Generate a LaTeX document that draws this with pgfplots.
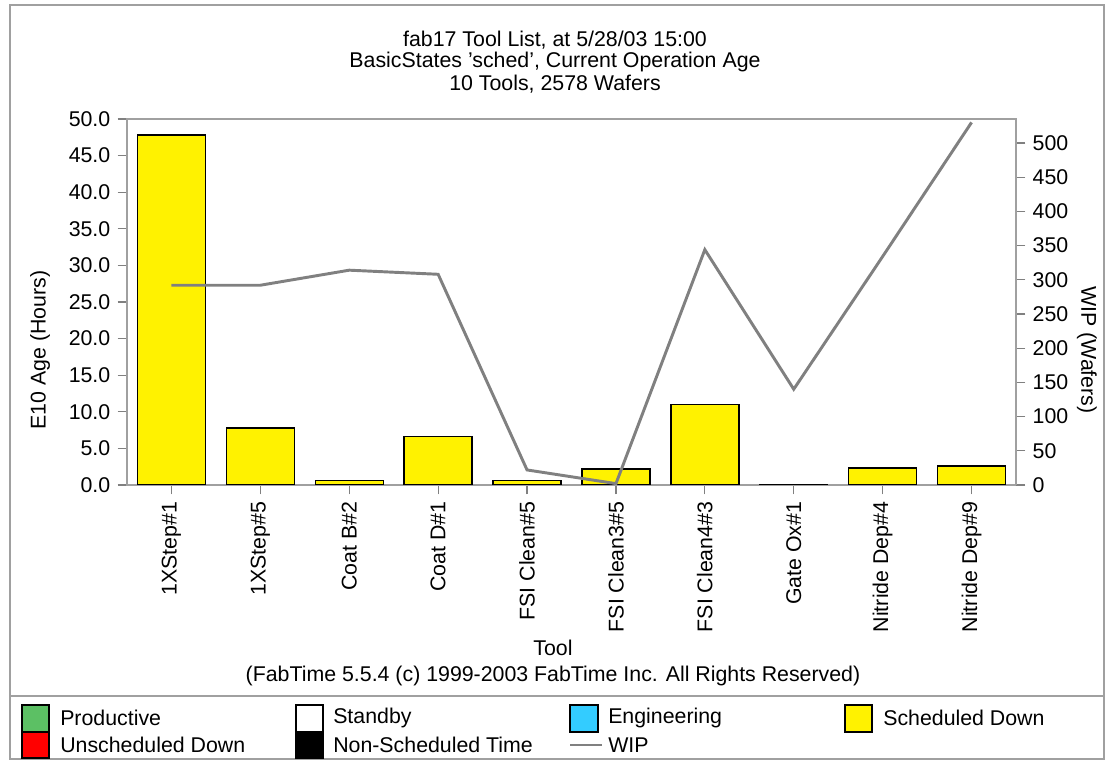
\documentclass[border=0pt]{standalone}
\usepackage{fontspec}
\setmainfont{Liberation Sans}
\usepackage{pgfplots}
\pgfplotsset{compat=1.18}
\definecolor{prodgreen}{RGB}{92,192,100}
\definecolor{engblue}{RGB}{51,204,255}
\definecolor{wipgray}{RGB}{128,128,128}
\definecolor{framegray}{RGB}{160,160,160}
\newcommand\chartfont{\fontsize{16}{18}\selectfont}
\begin{document}
\chartfont
\begin{tikzpicture}
% pixel scope: (px,py) -> picture
\begin{scope}[x=0.75pt,y=-0.75pt,xshift=-95.25pt,yshift=363.75pt]
\useasboundingbox (0,0) rectangle (1111,762);
\draw[framegray, line width=1.2pt] (10,5) rectangle (1104,759);
\draw[framegray, line width=2pt] (10,696) -- (1104,696);
\node at (555,40) {fab17 Tool List, at 5/28/03 15:00};
\node at (555,62) {BasicStates \char39 sched\char39, Current Operation Age};
\node at (555,84) {10 Tools, 2578 Wafers};
\node[rotate=90] at (40,350) {E10 Age (Hours)};
\node[rotate=-90] at (1087,350) {WIP (Wafers)};
\node at (553,648) {Tool};
\node at (553,676) {(FabTime 5.5.4 (c) 1999-2003 FabTime Inc. All Rights Reserved)};
% legend
\draw[black, line width=0.9pt, fill=prodgreen] (22,705) rectangle (49,732);
\draw[black, line width=0.9pt, fill=red] (22,732) rectangle (49,758);
\draw[black, line width=0.9pt, fill=white] (296,705) rectangle (323,732);
\draw[black, line width=0.9pt, fill=black] (296,732) rectangle (323,758);
\draw[black, line width=0.9pt, fill=engblue] (570,705) rectangle (598,732);
\draw[black, line width=0.9pt, fill=yellow] (845,705) rectangle (872,732);
\draw[wipgray, line width=2.2pt] (570,745) -- (602,745);
\node[anchor=west, inner sep=0pt] at (60,718) {Productive};
\node[anchor=west, inner sep=0pt] at (60,745) {Unscheduled Down};
\node[anchor=west, inner sep=0pt] at (333,718) {Standby};
\node[anchor=west, inner sep=0pt] at (333,745) {Non-Scheduled Time};
\node[anchor=west, inner sep=0pt] at (608,718) {Engineering};
\node[anchor=west, inner sep=0pt] at (608,745) {WIP};
\node[anchor=west, inner sep=0pt] at (883,718) {Scheduled Down};
\end{scope}
\begin{axis}[
  at={(0,0)}, anchor=south west, scale only axis,
  width=666.75pt, height=274.5pt,
  xmin=-0.5, xmax=9.5, ymin=0, ymax=50,
  xtick={0,...,9},
  xticklabels={1XStep\#1,1XStep\#5,Coat B\#2,Coat D\#1,FSI Clean\#5,FSI Clean3\#5,FSI Clean4\#3,Gate Ox\#1,Nitride Dep\#4,Nitride Dep\#9},
  xticklabel style={rotate=90, anchor=east, font=\chartfont},
  ytick={0,5,...,50},
  yticklabel style={/pgf/number format/.cd, fixed, fixed zerofill, precision=1, /tikz/.cd, font=\chartfont},
  /pgf/number format/assume math mode=true,
  axis line style={framegray, line width=1pt},
  tick style={wipgray, line width=0.9pt},
  major tick length=7pt,
  tick align=outside,
  xtick pos=lower, ytick pos=left,
  ybar, bar width=51pt, bar shift=0pt,
]
\addplot[fill=yellow, draw=black, line width=1.1pt] coordinates {
 (0,47.8) (1,7.8) (2,0.6) (3,6.6) (4,0.6) (5,2.2) (6,11.0) (7,0.05) (8,2.3) (9,2.6)};
\end{axis}
\begin{axis}[
  at={(0,0)}, anchor=south west, scale only axis,
  width=666.75pt, height=274.5pt,
  xmin=-0.5, xmax=9.5, ymin=0, ymax=535,
  axis x line=none, axis y line*=right,
  ytick={0,50,...,500},
  yticklabel style={font=\chartfont},
  /pgf/number format/assume math mode=true,
  axis line style={framegray, line width=1pt},
  tick style={wipgray, line width=0.9pt},
  major tick length=7pt,
  tick align=outside,
]
\addplot[wipgray, line width=2.2pt] coordinates {
 (0,292) (1,292) (2,314) (3,308) (4,22) (5,2) (6,344) (7,140) (8,334) (9,530)};
\end{axis}
\end{tikzpicture}
\end{document}
